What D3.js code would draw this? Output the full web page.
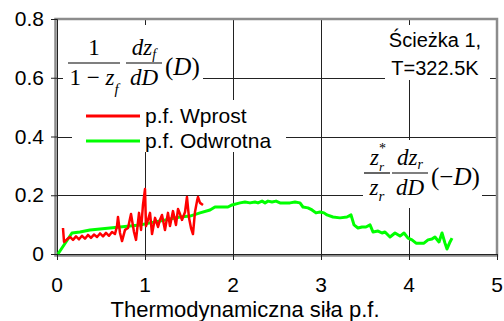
<!DOCTYPE html>
<html><head><meta charset="utf-8">
<script src="https://cdn.jsdelivr.net/npm/d3@7"></script>
<style>body{margin:0;background:#fff}svg{display:block}</style>
</head><body>
<svg id="c" width="504" height="321"></svg>
<script>
const xTicks = [0,1,2,3,4,5];
const yTicks = [0,0.2,0.4,0.6,0.8];
const yTickLabels = ["0","0.2","0.4","0.6","0.8"];
const seriesNames = ["p.f. Wprost","p.f. Odwrotna"];
const xLabel = "Thermodynamiczna siła p.f.";
const note = ["Ścieżka 1,","T=322.5K"];

const wprostX = [0.068,0.080,0.114,0.148,0.182,0.216,0.25,0.284,0.318,0.352,0.386,0.42,0.455,0.489,0.523,0.557,0.591,0.625,0.659,0.682,0.693,0.716,0.739,0.773,0.807,0.841,0.875,0.898,0.932,0.955,0.977,1.0,1.011,1.034,1.057,1.08,1.114,1.148,1.17,1.193,1.227,1.261,1.284,1.318,1.352,1.375,1.398,1.42,1.455,1.477,1.5,1.523,1.545,1.568,1.591,1.602,1.625,1.659];
const wprostY = [0.0885,0.041,0.05,0.058,0.048,0.06,0.05,0.062,0.052,0.065,0.055,0.066,0.058,0.07,0.06,0.072,0.062,0.075,0.068,0.095,0.126,0.0715,0.044,0.082,0.0885,0.136,0.075,0.048,0.140,0.082,0.167,0.221,0.095,0.116,0.140,0.068,0.123,0.092,0.116,0.133,0.082,0.140,0.095,0.146,0.099,0.153,0.136,0.116,0.143,0.194,0.123,0.0885,0.068,0.143,0.180,0.194,0.174,0.167];

const odwrX = [0.011,0.170,0.261,0.375,0.489,0.602,0.716,0.830,0.943,1.057,1.170,1.284,1.398,1.511,1.625,1.739,1.795,1.875,1.943,1.989,2.08,2.136,2.193,2.25,2.284,2.33,2.364,2.398,2.443,2.489,2.534,2.591,2.648,2.705,2.761,2.795,2.852,2.898,2.943,2.989,3.034,3.068,3.136,3.216,3.295,3.341,3.375,3.42,3.466,3.511,3.557,3.591,3.648,3.693,3.727,3.784,3.841,3.898,3.943,3.989,4.034,4.08,4.125,4.17,4.216,4.261,4.295,4.341,4.375,4.409,4.432,4.466,4.489];
const odwrY = [0,0.0715,0.075,0.082,0.085,0.0885,0.092,0.095,0.099,0.106,0.112,0.119,0.126,0.129,0.140,0.150,0.160,0.160,0.160,0.167,0.174,0.177,0.174,0.177,0.174,0.180,0.174,0.180,0.177,0.180,0.174,0.174,0.174,0.177,0.174,0.160,0.157,0.150,0.140,0.143,0.140,0.133,0.126,0.123,0.126,0.133,0.099,0.0885,0.092,0.092,0.099,0.075,0.078,0.0715,0.075,0.058,0.0715,0.061,0.0715,0.054,0.048,0.037,0.037,0.037,0.048,0.051,0.058,0.041,0.0715,0.037,0.017,0.041,0.054];

const svg = d3.select("#c");
const x = d3.scaleLinear().domain([0,5]).range([57,497]);
const y = d3.scaleLinear().domain([0,0.8]).range([254,19]);
const sans = "'Liberation Sans', Arial, sans-serif";
const serif = "'Liberation Serif', 'Times New Roman', serif";

// gridlines
const grid = svg.append("g").attr("stroke","#222").attr("stroke-width",1);
[1,2,3,4].forEach(v=>grid.append("line").attr("x1",Math.round(x(v))+0.5).attr("x2",Math.round(x(v))+0.5).attr("y1",y(0.8)).attr("y2",y(0)));
[0.2,0.4,0.6].forEach(v=>grid.append("line").attr("y1",Math.round(y(v))+0.5).attr("y2",Math.round(y(v))+0.5).attr("x1",x(0)).attr("x2",x(5)));

// frame
svg.append("rect").attr("x",x(0)-1.5).attr("y",y(0.8)).attr("width",x(5)-x(0)+1.5).attr("height",y(0)-y(0.8)+1.5)
  .attr("fill","none").attr("stroke","#8c8c8c").attr("stroke-width",2.5);

// white boxes (behind text, over grid)
const boxes = [[63,25,140,75],[72,100,214,52],[385,25,105,55],[363,140,119,68]];
boxes.forEach(b=>svg.append("rect").attr("x",b[0]).attr("y",b[1]).attr("width",b[2]).attr("height",b[3]).attr("fill","#fff"));

// axes
const xAxis = d3.axisBottom(x).tickValues(xTicks).tickSize(6).tickFormat("");
svg.append("g").attr("transform",`translate(0,${y(0)})`).call(xAxis)
  .call(g=>{g.select(".domain").attr("stroke","#222");g.selectAll("line").attr("stroke","#222");});
const yAxis = d3.axisLeft(y).tickValues(yTicks).tickSize(6).tickFormat("");
svg.append("g").attr("transform",`translate(${x(0)},0)`).call(yAxis)
  .call(g=>{g.select(".domain").attr("stroke","#222");g.selectAll("line").attr("stroke","#222");});

// tick labels
svg.append("g").selectAll("text").data(xTicks).join("text")
  .attr("x",d=>x(d)).attr("y",292).attr("text-anchor","middle")
  .attr("font-family",sans).attr("font-size",21).text(d=>d);
svg.append("g").selectAll("text").data(yTicks).join("text")
  .attr("x",44).attr("y",d=>y(d)+7).attr("text-anchor","end")
  .attr("font-family",sans).attr("font-size",21).text((d,i)=>yTickLabels[i]);
svg.append("text").attr("x",245).attr("y",317).attr("text-anchor","middle")
  .attr("font-family",sans).attr("font-size",22).text(xLabel);

// series
const line = d3.line().x(d=>x(d[0])).y(d=>y(d[1]));
svg.append("path").datum(odwrX.map((v,i)=>[v,odwrY[i]])).attr("d",line)
  .attr("fill","none").attr("stroke","#00ff00").attr("stroke-width",3).attr("stroke-linejoin","round");
svg.append("path").datum(wprostX.map((v,i)=>[v,wprostY[i]])).attr("d",line)
  .attr("fill","none").attr("stroke","#ff0000").attr("stroke-width",2.5).attr("stroke-linejoin","round");

// legend
const colors = ["#ff0000","#00ff00"];
seriesNames.forEach((n,i)=>{
  const ly = 116 + i*25;
  svg.append("line").attr("x1",86).attr("x2",140).attr("y1",ly).attr("y2",ly).attr("stroke",colors[i]).attr("stroke-width",3);
  svg.append("text").attr("x",145).attr("y",ly+7).attr("font-family",sans).attr("font-size",21).text(n);
});

// note
note.forEach((t,i)=>svg.append("text").attr("x",435).attr("y",47+i*28).attr("text-anchor","middle")
  .attr("font-family",sans).attr("font-size",20).text(t));

// formulas
function frac(g, cx, w, barY, numFn, denFn){
  g.append("line").attr("x1",cx-w/2).attr("x2",cx+w/2).attr("y1",barY).attr("y2",barY).attr("stroke","#000").attr("stroke-width",1.2);
  numFn(g.append("text").attr("x",cx).attr("y",barY-8).attr("text-anchor","middle"));
  denFn(g.append("text").attr("x",cx).attr("y",barY+22).attr("text-anchor","middle"));
}
const f1 = svg.append("g").attr("font-family",serif).attr("font-size",23);
frac(f1, 94, 52, 63, t=>t.text("1"), t=>{t.append("tspan").text("1 − ");t.append("tspan").attr("font-style","italic").text("z");t.append("tspan").attr("font-style","italic").attr("font-size",15).attr("dy",9).text("f");});
frac(f1, 144, 36, 63, t=>{t.append("tspan").attr("font-style","italic").text("dz");t.append("tspan").attr("font-style","italic").attr("font-size",14).attr("dy",4).text("f");}, t=>t.attr("font-style","italic").text("dD"));
f1.append("text").attr("x",165).attr("y",75).attr("font-size",25).text("(").append("tspan").attr("font-style","italic").text("D").append("tspan").attr("font-style","normal").text(")");

const f2 = svg.append("g").attr("font-family",serif).attr("font-size",23);
// numerator z_r^* built from separate pieces
f2.append("line").attr("x1",364).attr("x2",390).attr("y1",173).attr("y2",173).attr("stroke","#000").attr("stroke-width",1.2);
f2.append("text").attr("x",370).attr("y",165).attr("font-style","italic").text("z");
f2.append("text").attr("x",379).attr("y",153).attr("font-size",14).text("*");
f2.append("text").attr("x",379).attr("y",171).attr("font-size",13).attr("font-style","italic").text("r");
f2.append("text").attr("x",377).attr("y",195).attr("text-anchor","middle")
  .call(t=>{t.append("tspan").attr("font-style","italic").text("z");t.append("tspan").attr("font-style","italic").attr("font-size",15).attr("dy",6).text("r");});
frac(f2, 410, 36, 173, t=>{t.append("tspan").attr("font-style","italic").text("dz");t.append("tspan").attr("font-style","italic").attr("font-size",14).attr("dy",4).text("r");}, t=>t.attr("font-style","italic").text("dD"));
f2.append("text").attr("x",431).attr("y",185).attr("font-size",25).text("(−").append("tspan").attr("font-style","italic").text("D").append("tspan").attr("font-style","normal").text(")");
</script>
</body></html>
